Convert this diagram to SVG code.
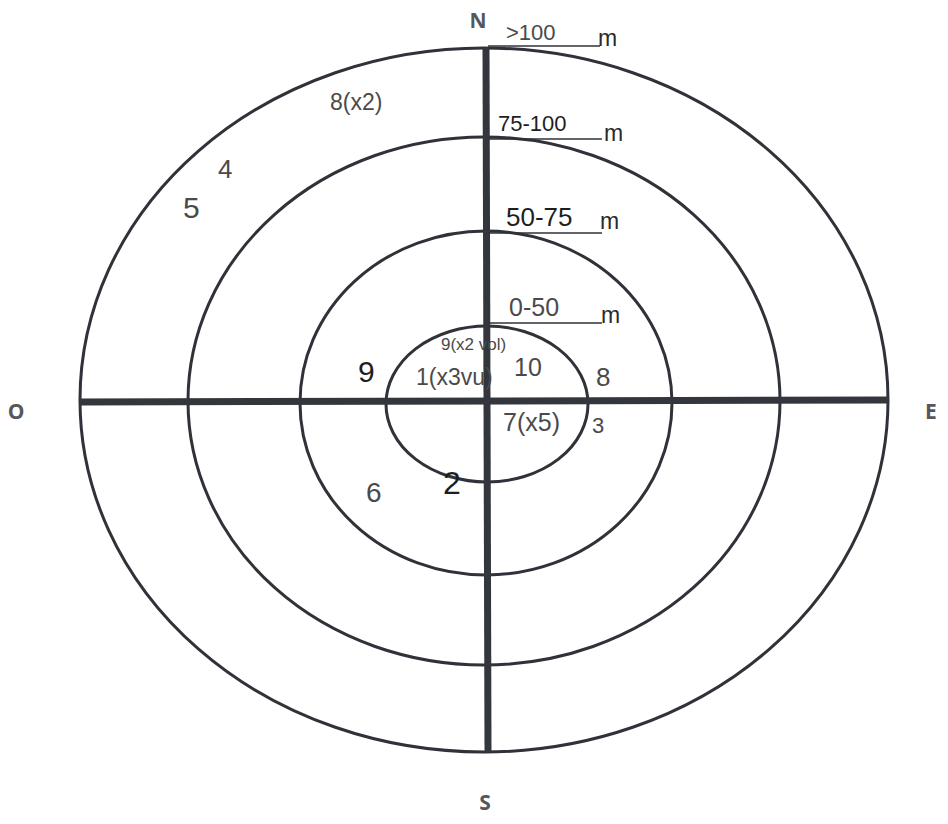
<svg xmlns="http://www.w3.org/2000/svg" width="948" height="824" viewBox="0 0 948 824">
<style>
.ring{fill:none;stroke:#2f3238;stroke-width:3}
.axis{stroke:#33363c;stroke-width:7}
.ul{stroke:#2f3238;stroke-width:1.6}
.dir{font-family:"Open Sans","DejaVu Sans",sans-serif;font-weight:bold;fill:#55575c;font-size:21px}
.hw{font-family:"Liberation Sans",sans-serif;fill:#4a4a4a}
.pen{font-family:"Liberation Sans",sans-serif;fill:#1e1e1e}
.m{font-family:"Liberation Sans",sans-serif;fill:#2a2a2a;font-size:23px}
</style>
<rect width="948" height="824" fill="#ffffff"/>
<g id="rings">
<ellipse id="ring-outer" class="ring" cx="484" cy="400" rx="404" ry="352"/>
<ellipse id="ring-75-100" class="ring" cx="484" cy="401" rx="296" ry="264"/>
<ellipse id="ring-50-75" class="ring" cx="486" cy="403" rx="186" ry="172"/>
<ellipse id="ring-0-50" class="ring" cx="487" cy="404" rx="101" ry="78"/>
</g>
<g id="axes">
<line class="axis" x1="486" y1="48" x2="488" y2="752"/>
<line class="axis" x1="80" y1="402" x2="888" y2="400"/>
</g>
<g id="labels-distance">
<line class="ul" x1="488" y1="46" x2="600" y2="46"/>
<text class="hw" x="506" y="40" font-size="22" fill="#6f7f77">&gt;100</text>
<text class="m" x="598" y="46">m</text>
<line class="ul" x1="488" y1="139" x2="602" y2="139"/>
<text class="pen" x="498" y="131" font-size="22">75-100</text>
<text class="m" x="604" y="141">m</text>
<line class="ul" x1="488" y1="233" x2="602" y2="233"/>
<text class="pen" x="506" y="226" font-size="26">50-75</text>
<text class="m" x="600" y="229">m</text>
<line class="ul" x1="490" y1="323" x2="602" y2="323"/>
<text class="hw" x="509" y="316" font-size="25">0-50</text>
<text class="m" x="601" y="323">m</text>
</g>
<g id="directions">
<text class="dir" x="478" y="28" text-anchor="middle">N</text>
<text class="dir" x="16" y="419" text-anchor="middle">O</text>
<text class="dir" x="931" y="419" text-anchor="middle">E</text>
<text class="dir" x="485" y="810" text-anchor="middle">S</text>
</g>
<g id="counts">
<text class="hw" x="330" y="110" font-size="23">8(x2)</text>
<text class="hw" x="218" y="178" font-size="26">4</text>
<text class="hw" x="183" y="218" font-size="30">5</text>
<text class="pen" x="358" y="382" font-size="30">9</text>
<text class="hw" x="441" y="350" font-size="17">9(x2 vol)</text>
<text class="hw" x="416" y="385" font-size="23">1(x3vu)</text>
<text class="hw" x="514" y="376" font-size="25">10</text>
<text class="hw" x="596" y="386" font-size="26">8</text>
<text class="hw" x="503" y="431" font-size="25">7(x5)</text>
<text class="hw" x="592" y="433" font-size="22">3</text>
<text class="pen" x="443" y="494" font-size="32">2</text>
<text class="hw" x="366" y="502" font-size="28">6</text>
</g>
</svg>
